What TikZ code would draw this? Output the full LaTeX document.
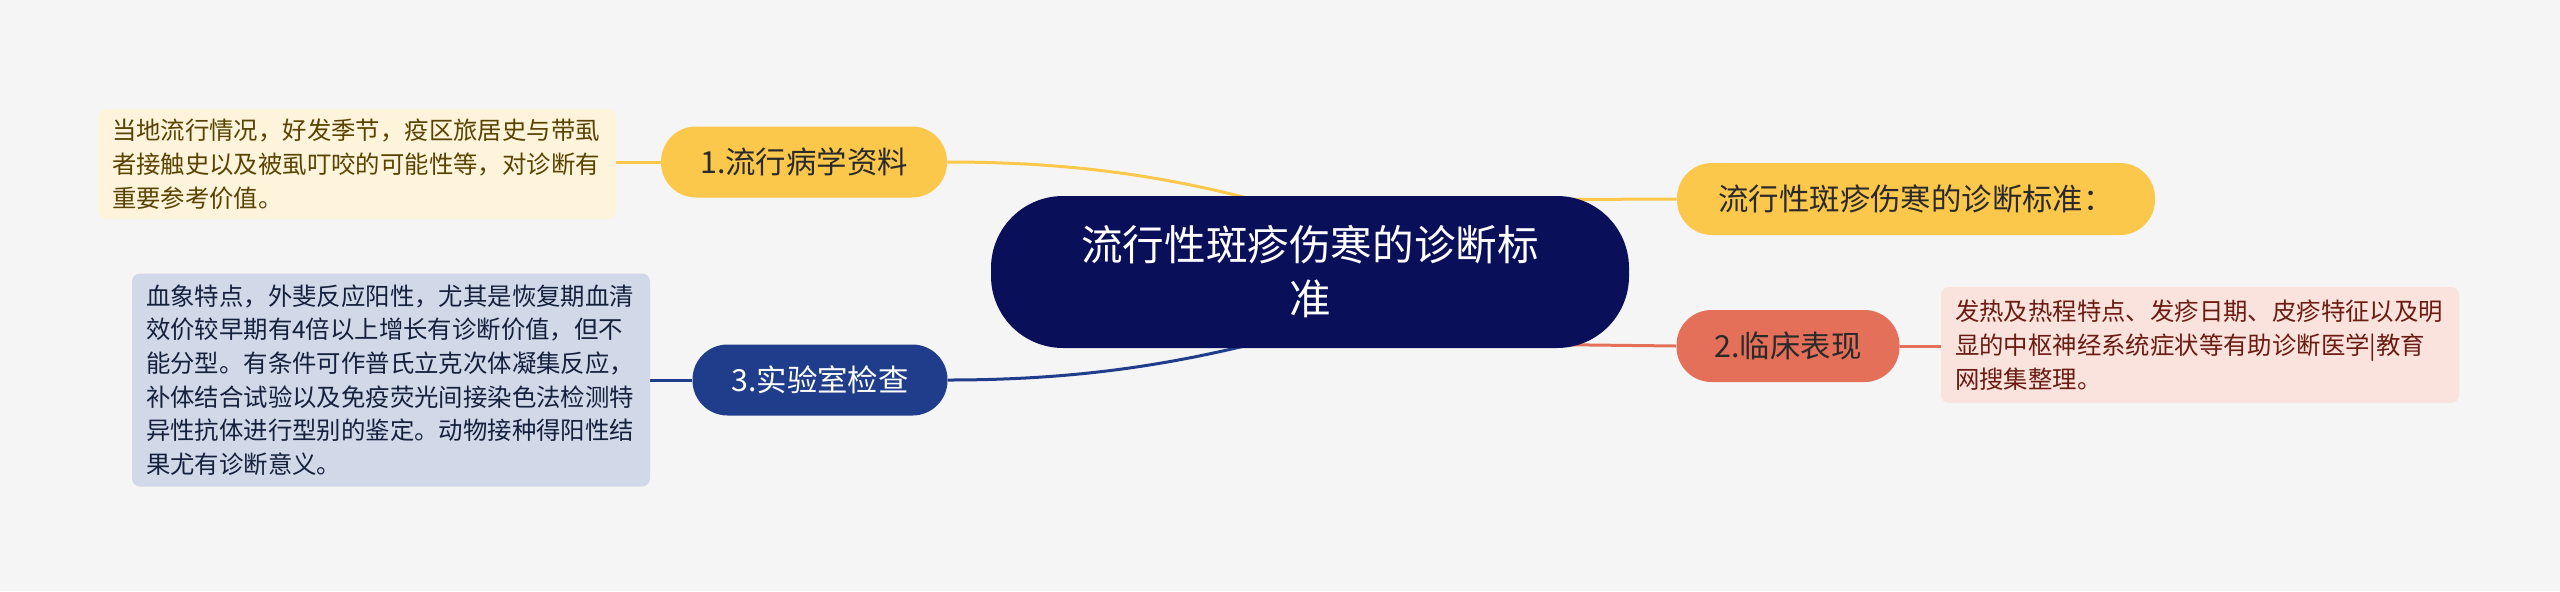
\documentclass[tikz,border=0pt]{standalone}
\usepackage{fontspec}
\setmainfont{Noto Sans CJK SC}
\usetikzlibrary{calc}
\pgfdeclarelayer{bottom}
\pgfdeclarelayer{links}
\pgfsetlayers{bottom,links,main}
\definecolor{bgc}{HTML}{F5F5F5}
\definecolor{cyellow}{HTML}{FCC84C}
\definecolor{cred}{HTML}{E4705A}
\definecolor{cnavy}{HTML}{0A0F5A}
\definecolor{cblue}{HTML}{1F3D8A}
\definecolor{lyellow}{HTML}{FEF4DC}
\definecolor{lred}{HTML}{FAE2DD}
\definecolor{lblue}{HTML}{D1D8E8}
\definecolor{tyellow}{HTML}{5A4300}
\definecolor{tred}{HTML}{6B1C12}
\definecolor{tblue}{HTML}{14213D}
\definecolor{tdark}{HTML}{2A2A2A}
\tikzset{
  pill/.style={draw=none, rounded corners=17.5pt, inner sep=0pt, font=\fontsize{15.2pt}{18pt}\selectfont},
  leafbox/.style={draw=none, rounded corners=4pt, inner xsep=7pt, inner ysep=0pt, align=left,
    text width=245pt, font=\fontsize{12.2pt}{17pt}\selectfont},
  link/.style={line width=1.5pt}
}
\begin{document}
\begin{tikzpicture}[x=0.5pt,y=-0.5pt]
\begin{pgfonlayer}{bottom}
\fill[bgc] (0,0) rectangle (2560,591);
\end{pgfonlayer}
\useasboundingbox (0,0) rectangle (2560,591);
% central topic
\node[draw=none, fill=cnavy, text=white, rounded corners=36pt, minimum width=319pt, minimum height=76pt,
  align=center, inner sep=0pt, font=\fontsize{20.8pt}{27pt}\selectfont] (c) at (1310,272)
  {流行性斑疹伤寒的诊断标\\准};
% main branches
\node[pill, fill=cyellow, text=tdark, minimum width=143pt, minimum height=35.5pt] (n1) at (804,162) {1.流行病学资料};
\node[pill, fill=cyellow, text=tdark, minimum width=239pt, minimum height=36pt] (n0) at (1916,199) {流行性斑疹伤寒的诊断标准：};
\node[pill, fill=cred, text=tdark, minimum width=111.5pt, minimum height=36pt] (n2) at (1788,346) {2.临床表现};
\node[pill, fill=cblue, text=white, minimum width=127.5pt, minimum height=35.5pt] (n3) at (820,380) {3.实验室检查};
% leaves
\node[leafbox, fill=lyellow, text=tyellow, minimum width=257.5pt, minimum height=55pt] (l1) at (357,164)
  {当地流行情况，好发季节，疫区旅居史与带虱\\者接触史以及被虱叮咬的可能性等，对诊断有\\重要参考价值。};
\node[leafbox, fill=lred, text=tred, minimum width=255.5pt, minimum height=58pt] (l2) at (2200,345)
  {发热及热程特点、发疹日期、皮疹特征以及明\\显的中枢神经系统症状等有助诊断医学|教育\\网搜集整理。};
\node[leafbox, fill=lblue, text=tblue, minimum width=255.5pt, minimum height=106.5pt,
  font=\fontsize{12.2pt}{16.8pt}\selectfont] (l3) at (391,380)
  {血象特点，外斐反应阳性，尤其是恢复期血清\\效价较早期有4倍以上增长有诊断价值，但不\\能分型。有条件可作普氏立克次体凝集反应，\\补体结合试验以及免疫荧光间接染色法检测特\\异性抗体进行型别的鉴定。动物接种得阳性结\\果尤有诊断意义。};
% connectors
\begin{pgfonlayer}{links}
\coordinate (c1) at ($(c.north)+(-20,14)$);
\coordinate (c3) at ($(c.south)+(-20,-14)$);
\coordinate (c0) at ($(c.north east)+(-90,4)$);
\coordinate (c2) at ($(c.south east)+(-90,-4)$);
\draw[link, cyellow] (n1.east) .. controls (1080,162) and (1180,178) .. (c1);
\draw[link, cblue] (n3.east) .. controls (1080,380) and (1180,364) .. (c3);
\draw[link, cyellow] (c0) -- (n0.west);
\draw[link, cred] (c2) -- (n2.west);
\draw[link, cyellow] (n1.west) -- (l1.east |- n1.west);
\draw[link, cred] (n2.east) -- (l2.west |- n2.east);
\draw[link, cblue] (n3.west) -- (l3.east |- n3.west);
\end{pgfonlayer}
\end{tikzpicture}
\end{document}
